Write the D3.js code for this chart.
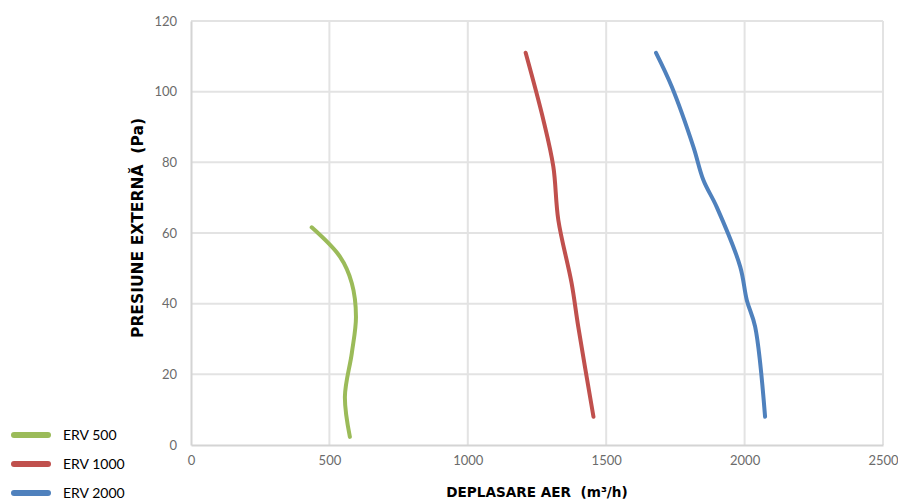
<!DOCTYPE html>
<html><head><meta charset="utf-8">
<script src="https://cdn.jsdelivr.net/npm/d3@7"></script>
<style>body{margin:0;background:#fff}svg{display:block}</style>
</head><body><svg id="c" width="898" height="501"></svg>
<script>
const seriesNames = ["ERV 500", "ERV 1000", "ERV 2000"];
const seriesColors = ["#9BBB59", "#C0504D", "#4F81BD"];
const erv500X = [436, 538, 581, 596, 581, 556, 574];
const erv500Y = [61.6, 53.3, 45.8, 36.3, 26, 13.7, 2.3];
const erv1000X = [1209, 1273, 1309, 1327, 1375, 1399, 1454];
const erv1000Y = [111, 92, 78.8, 63.7, 45.8, 33.5, 8];
const erv2000X = [1680, 1737, 1815, 1851, 1899, 1984, 2008, 2038, 2074];
const erv2000Y = [111, 101.4, 84.4, 75, 67.4, 50.5, 41, 33.5, 8];
const xTicks = [0, 500, 1000, 1500, 2000, 2500];
const yTicks = [0, 20, 40, 60, 80, 100, 120];

const series = [[erv500X, erv500Y], [erv1000X, erv1000Y], [erv2000X, erv2000Y]]
  .map(([xs, ys], i) => ({name: seriesNames[i], color: seriesColors[i], pts: xs.map((x, j) => [x, ys[j]])}));

const svg = d3.select("#c");
const font = "'Lato', 'Open Sans', sans-serif";
const tfont = "'DejaVu Sans', sans-serif";
const x = d3.scaleLinear().domain([0, 2500]).range([191, 883]);
const y = d3.scaleLinear().domain([0, 120]).range([445, 21]);

// grid
svg.append("g").selectAll("line").data(yTicks.filter(d => d > 0)).join("line")
  .attr("x1", x(0)).attr("x2", x(2500)).attr("y1", d => y(d)).attr("y2", d => y(d))
  .attr("stroke", "#e3e3e3").attr("stroke-width", 2);
svg.append("g").selectAll("line").data(xTicks.filter(d => d > 0)).join("line")
  .attr("y1", y(0)).attr("y2", y(120)).attr("x1", d => x(d)).attr("x2", d => x(d))
  .attr("stroke", "#e3e3e3").attr("stroke-width", 2);

// axes
const xAxis = svg.append("g").attr("transform", `translate(0,${y(0)})`)
  .call(d3.axisBottom(x).tickValues(xTicks).tickFormat(d3.format("d")).tickSize(0).tickPadding(11));
const yAxis = svg.append("g").attr("transform", `translate(${x(0)},0)`)
  .call(d3.axisLeft(y).tickValues(yTicks).tickFormat(d3.format("d")).tickSize(0).tickPadding(14));
[xAxis, yAxis].forEach(a => {
  a.select(".domain").attr("stroke", "#d4d4d4").attr("stroke-width", 2);
  a.selectAll("text").attr("fill", "#6b6b6b").style("font-family", font).style("font-size", "13px");
});

// lines
const line = d3.line().x(d => x(d[0])).y(d => y(d[1])).curve(d3.curveCatmullRom.alpha(0.5));
svg.append("g").selectAll("path").data(series).join("path")
  .attr("d", d => line(d.pts)).attr("fill", "none").attr("stroke", d => d.color)
  .attr("stroke-width", 4).attr("stroke-linecap", "round").attr("stroke-linejoin", "round");

// titles
svg.append("text").attr("x", 537).attr("y", 497).attr("text-anchor", "middle")
  .style("font-family", tfont).style("font-size", "13.6px").style("font-weight", "bold").attr("fill", "#000")
  .text("DEPLASARE AER\u00a0\u00a0(m\u00b3/h)");
svg.append("text").attr("transform", "translate(143,228) rotate(-90)").attr("text-anchor", "middle")
  .style("font-family", tfont).style("font-size", "15px").style("font-weight", "bold").attr("fill", "#000")
  .attr("textLength", 220).attr("lengthAdjust", "spacingAndGlyphs")
  .text("PRESIUNE EXTERNĂ\u00a0\u00a0(Pa)");

// legend
const lg = svg.append("g").selectAll("g").data(series).join("g")
  .attr("transform", (d, i) => `translate(0,${435 + i * 29})`);
lg.append("line").attr("x1", 14).attr("x2", 48).attr("y1", 0).attr("y2", 0)
  .attr("stroke", d => d.color).attr("stroke-width", 6).attr("stroke-linecap", "round");
lg.append("text").attr("x", 63).attr("y", 5).text(d => d.name)
  .style("font-family", font).style("font-size", "14px").attr("fill", "#000");
</script></body></html>
